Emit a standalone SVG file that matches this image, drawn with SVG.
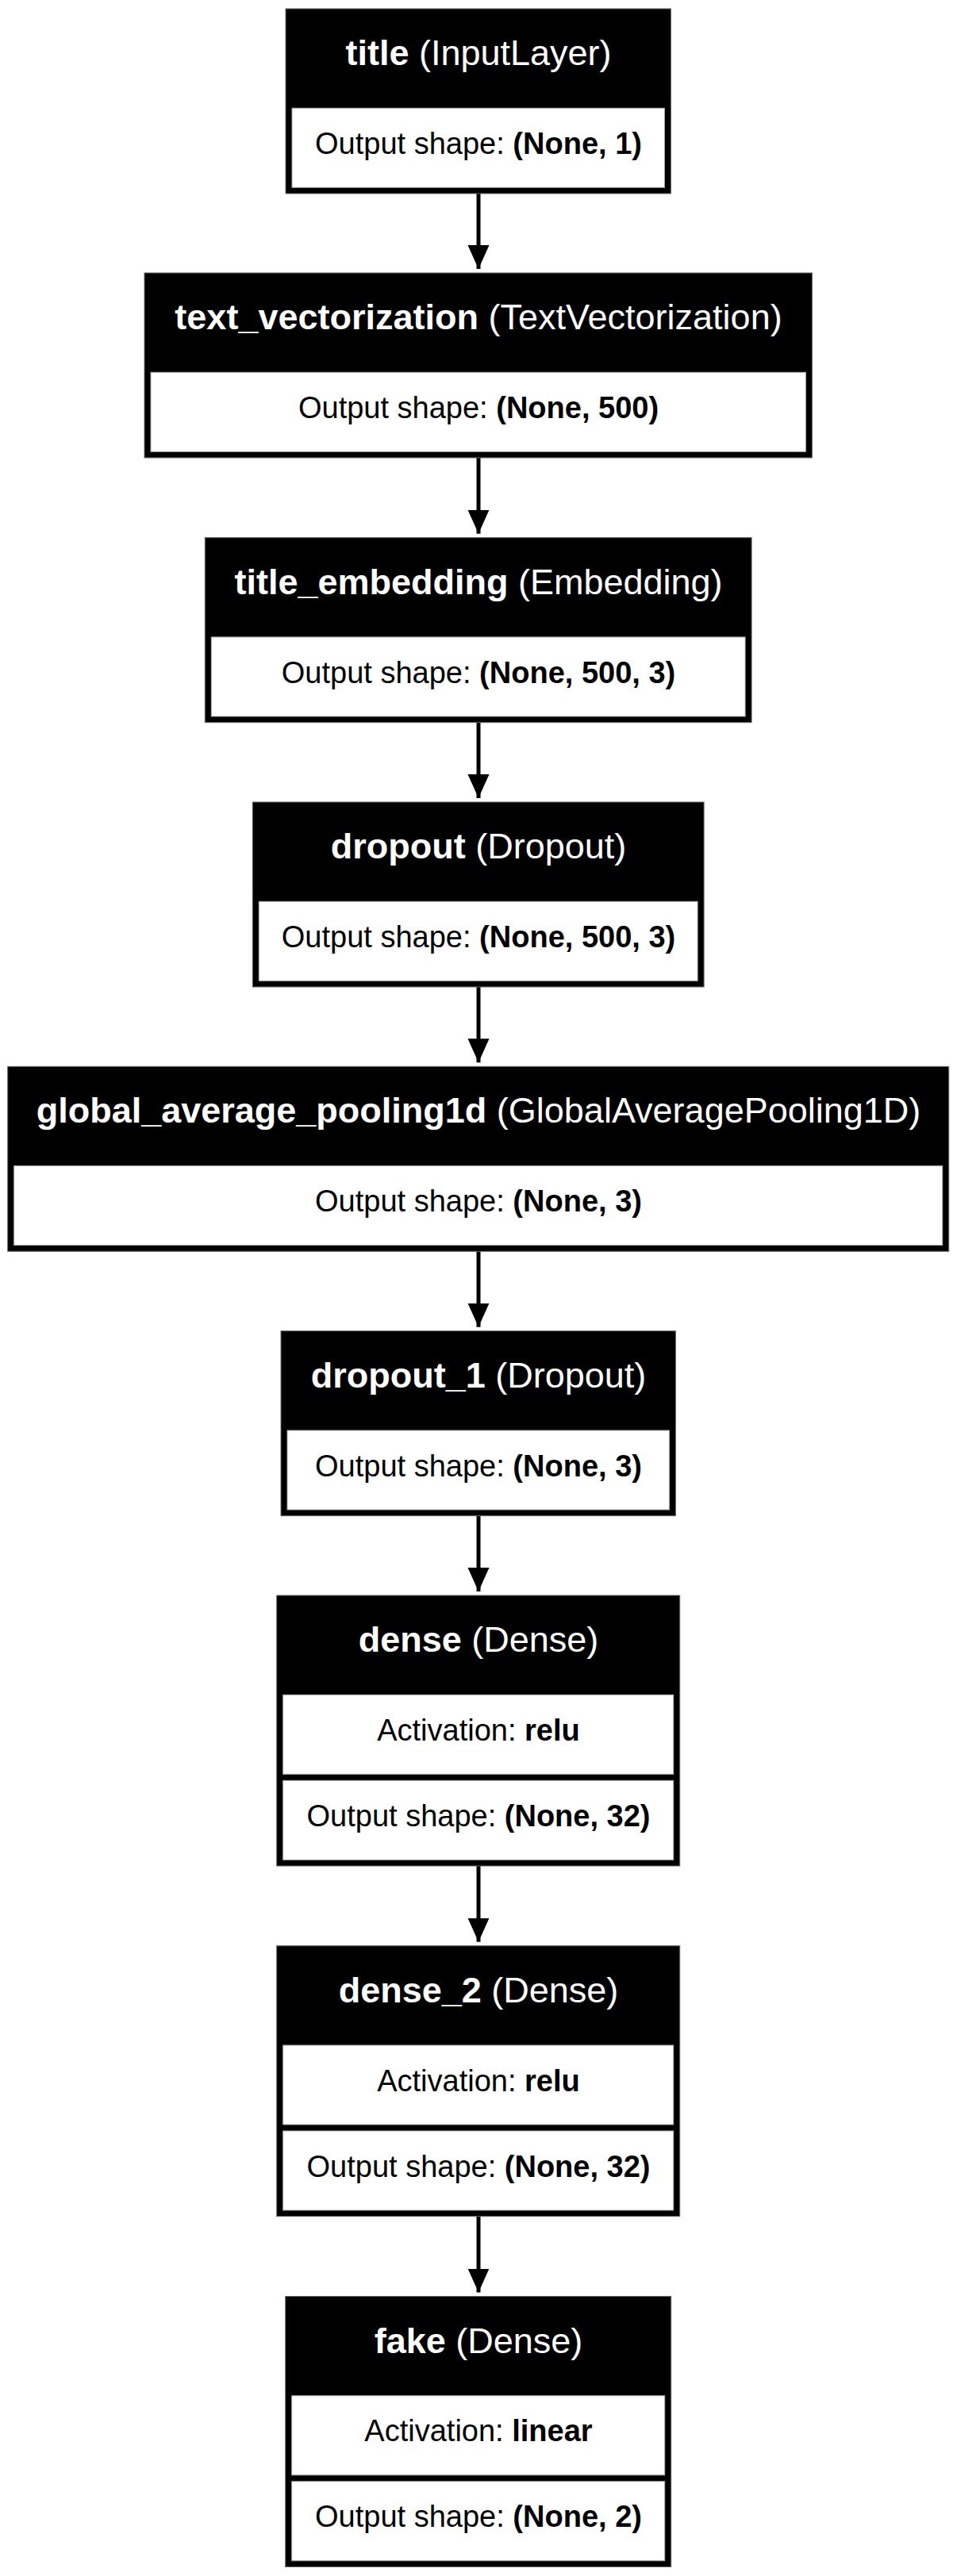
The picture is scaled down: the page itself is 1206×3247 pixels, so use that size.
<svg xmlns="http://www.w3.org/2000/svg" width="1206" height="3247" viewBox="0 0 1206 3247">
<style>
.box{fill:#000;stroke:#666;stroke-width:1}
.cell{fill:#fff;stroke:#aaa;stroke-width:1}
.h{font-family:"Liberation Sans",Arial,sans-serif;font-size:45px;fill:#fff;text-anchor:middle}
.c{font-family:"Liberation Sans",Arial,sans-serif;font-size:38px;fill:#000;text-anchor:middle}
.b{font-weight:bold}
.edge{stroke:#000;stroke-width:5;fill:none}
</style>
<defs>
<marker id="arr" markerUnits="userSpaceOnUse" markerWidth="30" markerHeight="28" viewBox="0 0 30 28" refX="30" refY="14" orient="auto">
<path d="M0,0.5 L30,14 L0,27.5 z" fill="#000"/>
</marker>
</defs>
<rect width="1206" height="3247" fill="#fff"/>
<g id="connectors">
<path class="edge" d="M603,243 V339" marker-end="url(#arr)"/>
<path class="edge" d="M603,577 V672.7" marker-end="url(#arr)"/>
<path class="edge" d="M603,910.7 V1006" marker-end="url(#arr)"/>
<path class="edge" d="M603,1244 V1339.3" marker-end="url(#arr)"/>
<path class="edge" d="M603,1577.3 V1672.7" marker-end="url(#arr)"/>
<path class="edge" d="M603,1910.7 V2006" marker-end="url(#arr)"/>
<path class="edge" d="M603,2352 V2447.7" marker-end="url(#arr)"/>
<path class="edge" d="M603,2793.7 V2889.5" marker-end="url(#arr)"/>
</g>
<g id="node-title">
<rect class="box" x="360" y="11" width="485.4" height="233"/>
<rect class="cell" x="368" y="136.3" width="469.4" height="100"/>
<text class="h" x="603" y="82"><tspan class="b">title</tspan> (InputLayer)</text>
<text class="c" x="603" y="193.8">Output shape: <tspan class="b">(None, 1)</tspan></text>
</g>
<g id="node-text_vectorization">
<rect class="box" x="182" y="344" width="841.4" height="233"/>
<rect class="cell" x="190" y="469.3" width="825.4" height="100"/>
<text class="h" x="603" y="415"><tspan class="b">text_vectorization</tspan> (TextVectorization)</text>
<text class="c" x="603" y="526.8">Output shape: <tspan class="b">(None, 500)</tspan></text>
</g>
<g id="node-title_embedding">
<rect class="box" x="258.3" y="677.7" width="688.8" height="233"/>
<rect class="cell" x="266.3" y="803" width="672.8" height="100"/>
<text class="h" x="603" y="748.7"><tspan class="b">title_embedding</tspan> (Embedding)</text>
<text class="c" x="603" y="860.5">Output shape: <tspan class="b">(None, 500, 3)</tspan></text>
</g>
<g id="node-dropout">
<rect class="box" x="318.3" y="1011" width="568.8" height="233"/>
<rect class="cell" x="326.3" y="1136.3" width="552.8" height="100"/>
<text class="h" x="603" y="1082"><tspan class="b">dropout</tspan> (Dropout)</text>
<text class="c" x="603" y="1193.8">Output shape: <tspan class="b">(None, 500, 3)</tspan></text>
</g>
<g id="node-global_average_pooling1d">
<rect class="box" x="9.7" y="1344.3" width="1186" height="233"/>
<rect class="cell" x="17.7" y="1469.6" width="1170" height="100"/>
<text class="h" x="603" y="1415.3"><tspan class="b">global_average_pooling1d</tspan> (GlobalAveragePooling1D)</text>
<text class="c" x="603" y="1527.1">Output shape: <tspan class="b">(None, 3)</tspan></text>
</g>
<g id="node-dropout_1">
<rect class="box" x="354" y="1677.7" width="497.4" height="233"/>
<rect class="cell" x="362" y="1803" width="481.4" height="100"/>
<text class="h" x="603" y="1748.7"><tspan class="b">dropout_1</tspan> (Dropout)</text>
<text class="c" x="603" y="1860.5">Output shape: <tspan class="b">(None, 3)</tspan></text>
</g>
<g id="node-dense">
<rect class="box" x="348.7" y="2011" width="508" height="341"/>
<rect class="cell" x="356.7" y="2136.3" width="492" height="100"/>
<rect class="cell" x="356.7" y="2244.3" width="492" height="100"/>
<text class="h" x="603" y="2082"><tspan class="b">dense</tspan> (Dense)</text>
<text class="c" x="603" y="2193.8">Activation: <tspan class="b">relu</tspan></text>
<text class="c" x="603" y="2301.8">Output shape: <tspan class="b">(None, 32)</tspan></text>
</g>
<g id="node-dense_2">
<rect class="box" x="348.7" y="2452.7" width="508" height="341"/>
<rect class="cell" x="356.7" y="2578" width="492" height="100"/>
<rect class="cell" x="356.7" y="2686" width="492" height="100"/>
<text class="h" x="603" y="2523.7"><tspan class="b">dense_2</tspan> (Dense)</text>
<text class="c" x="603" y="2635.5">Activation: <tspan class="b">relu</tspan></text>
<text class="c" x="603" y="2743.5">Output shape: <tspan class="b">(None, 32)</tspan></text>
</g>
<g id="node-fake">
<rect class="box" x="359.7" y="2894.5" width="486" height="341"/>
<rect class="cell" x="367.7" y="3019.8" width="470" height="100"/>
<rect class="cell" x="367.7" y="3127.8" width="470" height="100"/>
<text class="h" x="603" y="2965.5"><tspan class="b">fake</tspan> (Dense)</text>
<text class="c" x="603" y="3077.3">Activation: <tspan class="b">linear</tspan></text>
<text class="c" x="603" y="3185.3">Output shape: <tspan class="b">(None, 2)</tspan></text>
</g>
</svg>
